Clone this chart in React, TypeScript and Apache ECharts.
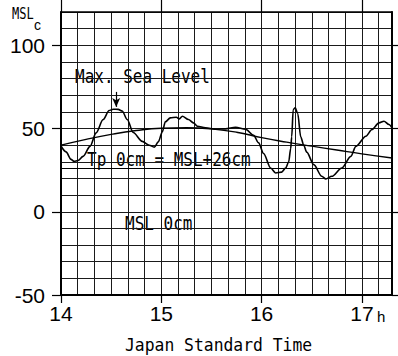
import React, { useEffect, useRef } from "react";
import * as echarts from "echarts";

// Observed sea level (decimal hours, cm above MSL)
const SEA_TIME = [
  14.0, 14.05, 14.1, 14.13, 14.17, 14.22, 14.29, 14.35, 14.42, 14.48, 14.52, 14.57, 14.61, 14.66,
  14.72, 14.81, 14.88, 14.93, 14.97, 15.01, 15.04, 15.09, 15.15, 15.18, 15.21, 15.27, 15.32, 15.36,
  15.44, 15.54, 15.64, 15.74, 15.84, 15.92, 15.97, 16.02, 16.09, 16.14, 16.2, 16.24, 16.27, 16.29,
  16.3, 16.315, 16.335, 16.36, 16.39, 16.42, 16.45, 16.52, 16.6, 16.64, 16.7, 16.8, 16.89, 16.94,
  17.04, 17.1, 17.17, 17.22, 17.27, 17.3,
];
const SEA_LEVEL = [
  39.5, 36, 31.5, 30.3, 30.8, 33.3, 39.3, 47.4, 55.4, 60.8, 61.6, 61.5, 60.5, 55.4,
  47.6, 42.3, 40, 38.8, 42, 48, 54, 56.4, 56.8, 55.8, 57.4, 55.4, 53.4, 51.4,
  50.5, 49.6, 49.8, 50.8, 49.6, 46, 41.4, 35, 26.3, 23.3, 23.8, 26.3, 30, 38,
  45, 61.4, 62.5, 59, 45, 40, 35.8, 28.3, 21.3, 19.7, 21.3, 26.3, 33.3, 39.3,
  45.4, 49.4, 53.4, 54.4, 52.4, 50.5,
];
// Predicted tide
const TIDE_TIME = [14.0, 14.25, 14.5, 14.75, 15.0, 15.25, 15.5, 15.75, 16.0, 16.25, 16.5, 16.75, 17.0, 17.3];
const TIDE = [40, 43.5, 46.5, 48.8, 50.2, 50.5, 49.8, 47.8, 44.5, 41.8, 39.4, 37.1, 34.8, 32.3];

const TP_ZERO = 26;
const MAX_TIME = 14.55;
const ARROW_FROM = 72;
const ARROW_TO = 63;

const X_TICKS_H = [14, 15, 16, 17];
const Y_TICKS = [-50, 0, 50, 100];
const X_MIN_H = 14;
const X_MAX_H = 17.3;
const Y_MIN = -50;
const Y_MAX = 120;

const X_LABEL = "Japan Standard Time";

export default function App() {
  const ref = useRef<HTMLDivElement>(null);
  useEffect(() => {
    if (!ref.current) return;
    const chart = echarts.init(ref.current, null, { renderer: "svg" });
    const toMin = (h: number) => Math.round(h * 60 * 10) / 10;
    const xMin = toMin(X_MIN_H);
    const xMax = toMin(X_MAX_H);
    const xTicks = X_TICKS_H.map(toMin);
    const sea = SEA_TIME.map((t, i) => [toMin(t), SEA_LEVEL[i]]);
    const tide = TIDE_TIME.map((t, i) => [toMin(t), TIDE[i]]);
    const labelFont = "Liberation Sans";
    const mono = "DejaVu Sans Mono";

    const baseX = {
      type: "value" as const,
      min: xMin,
      max: xMax,
      interval: 10,
    };
    const baseY = {
      type: "value" as const,
      min: Y_MIN,
      max: Y_MAX,
      interval: 10,
    };

    chart.setOption({
      animation: false,
      backgroundColor: "#fff",
      grid: { left: 61, top: 12, right: 6, bottom: 61, show: false },
      xAxis: [
        {
          ...baseX,
          position: "bottom",
          axisLine: { show: false, onZero: false },
          axisTick: { show: false },
          axisLabel: { show: false },
          splitLine: { show: true, lineStyle: { color: "#1a1a1a", width: 1 } },
        },
        {
          ...baseX,
          position: "bottom",
          axisLine: { show: true, onZero: false, lineStyle: { color: "#000", width: 2 } },
          axisTick: { show: true, customValues: xTicks, length: 8, lineStyle: { color: "#000", width: 1.2 } },
          axisLabel: {
            show: true,
            customValues: xTicks,
            formatter: (v: number) => String(v / 60),
            fontSize: 21,
            fontFamily: labelFont,
            color: "#000",
            margin: 8,
          },
          splitLine: { show: false },
        },
        {
          ...baseX,
          position: "top",
          axisLine: { show: true, onZero: false, lineStyle: { color: "#000", width: 1.5 } },
          axisTick: { show: true, customValues: xTicks, length: 12, lineStyle: { color: "#000", width: 1.2 } },
          axisLabel: { show: false },
          splitLine: { show: false },
        },
      ],
      yAxis: [
        {
          ...baseY,
          position: "left",
          axisLine: { show: false, onZero: false },
          axisTick: { show: false },
          axisLabel: { show: false },
          splitLine: { show: true, lineStyle: { color: "#1a1a1a", width: 1 } },
        },
        {
          ...baseY,
          position: "left",
          axisLine: { show: true, onZero: false, lineStyle: { color: "#000", width: 2 } },
          axisTick: { show: true, customValues: Y_TICKS, length: 9, lineStyle: { color: "#000", width: 1.2 } },
          axisLabel: {
            show: true,
            customValues: Y_TICKS,
            fontSize: 21,
            fontFamily: labelFont,
            color: "#000",
            margin: 16,
            lineHeight: 16,
          },
          splitLine: { show: false },
        },
        {
          ...baseY,
          position: "right",
          axisLine: { show: true, onZero: false, lineStyle: { color: "#000", width: 2 } },
          axisTick: { show: true, customValues: Y_TICKS, length: 8, lineStyle: { color: "#000", width: 1.2 } },
          axisLabel: { show: false },
          splitLine: { show: false },
        },
      ],
      series: [
        {
          type: "line",
          name: "Predicted tide",
          data: tide,
          xAxisIndex: 0,
          yAxisIndex: 0,
          showSymbol: false,
          smooth: true,
          lineStyle: { color: "#000", width: 1.4 },
          markLine: {
            silent: true,
            symbol: ["none", "none"],
            label: { show: false },
            lineStyle: { color: "#000", width: 1.2, type: "solid" },
            data: [{ yAxis: TP_ZERO }],
          },
        },
        {
          type: "line",
          name: "Sea level",
          data: sea,
          xAxisIndex: 0,
          yAxisIndex: 0,
          showSymbol: false,
          smooth: 0.3,
          smoothMonotone: "x",
          lineStyle: { color: "#000", width: 1.6 },
          markLine: {
            silent: true,
            symbol: ["none", "arrow"],
            symbolSize: [6, 9],
            label: { show: false },
            lineStyle: { color: "#000", width: 1.2, type: "solid" },
            data: [
              [
                { coord: [toMin(MAX_TIME), ARROW_FROM] },
                { coord: [toMin(MAX_TIME), ARROW_TO] },
              ],
            ],
          },
        },
      ],
      graphic: [
        {
          type: "text",
          x: 12,
          y: 13,
          scaleX: 0.75,
          style: { text: "MSL", font: `16px '${mono}'`, fill: "#000", verticalAlign: "middle" },
        },
        {
          type: "text",
          x: 34,
          y: 25,
          style: {
            text: "c",
            font: `14px '${labelFont}'`,
            fill: "#000",
            verticalAlign: "middle",
            lineHeight: 10,
          },
        },
        {
          type: "text",
          x: 75,
          y: 76,
          scaleX: 0.8,
          style: { text: "Max. Sea Level", font: `20px '${mono}'`, fill: "#000", verticalAlign: "middle" },
        },
        {
          type: "text",
          x: 87,
          y: 159,
          scaleX: 0.8,
          style: { text: "Tp 0cm = MSL+26cm", font: `20px '${mono}'`, fill: "#000", verticalAlign: "middle" },
        },
        {
          type: "text",
          x: 125,
          y: 223,
          scaleX: 0.8,
          style: { text: "MSL 0cm", font: `20px '${mono}'`, fill: "#000", verticalAlign: "middle" },
        },
        {
          type: "text",
          x: 125,
          y: 345,
          scaleX: 0.91,
          style: { text: X_LABEL, font: `18px '${mono}'`, fill: "#000", verticalAlign: "middle" },
        },
        {
          type: "text",
          x: 377,
          y: 316,
          style: { text: "h", font: `15px '${labelFont}'`, fill: "#000", verticalAlign: "middle" },
        },
      ],
    });
    return () => chart.dispose();
  }, []);
  return (
    <div
      ref={ref}
      style={{ position: "fixed", left: 0, top: 0, width: 398, height: 356 }}
    />
  );
}
